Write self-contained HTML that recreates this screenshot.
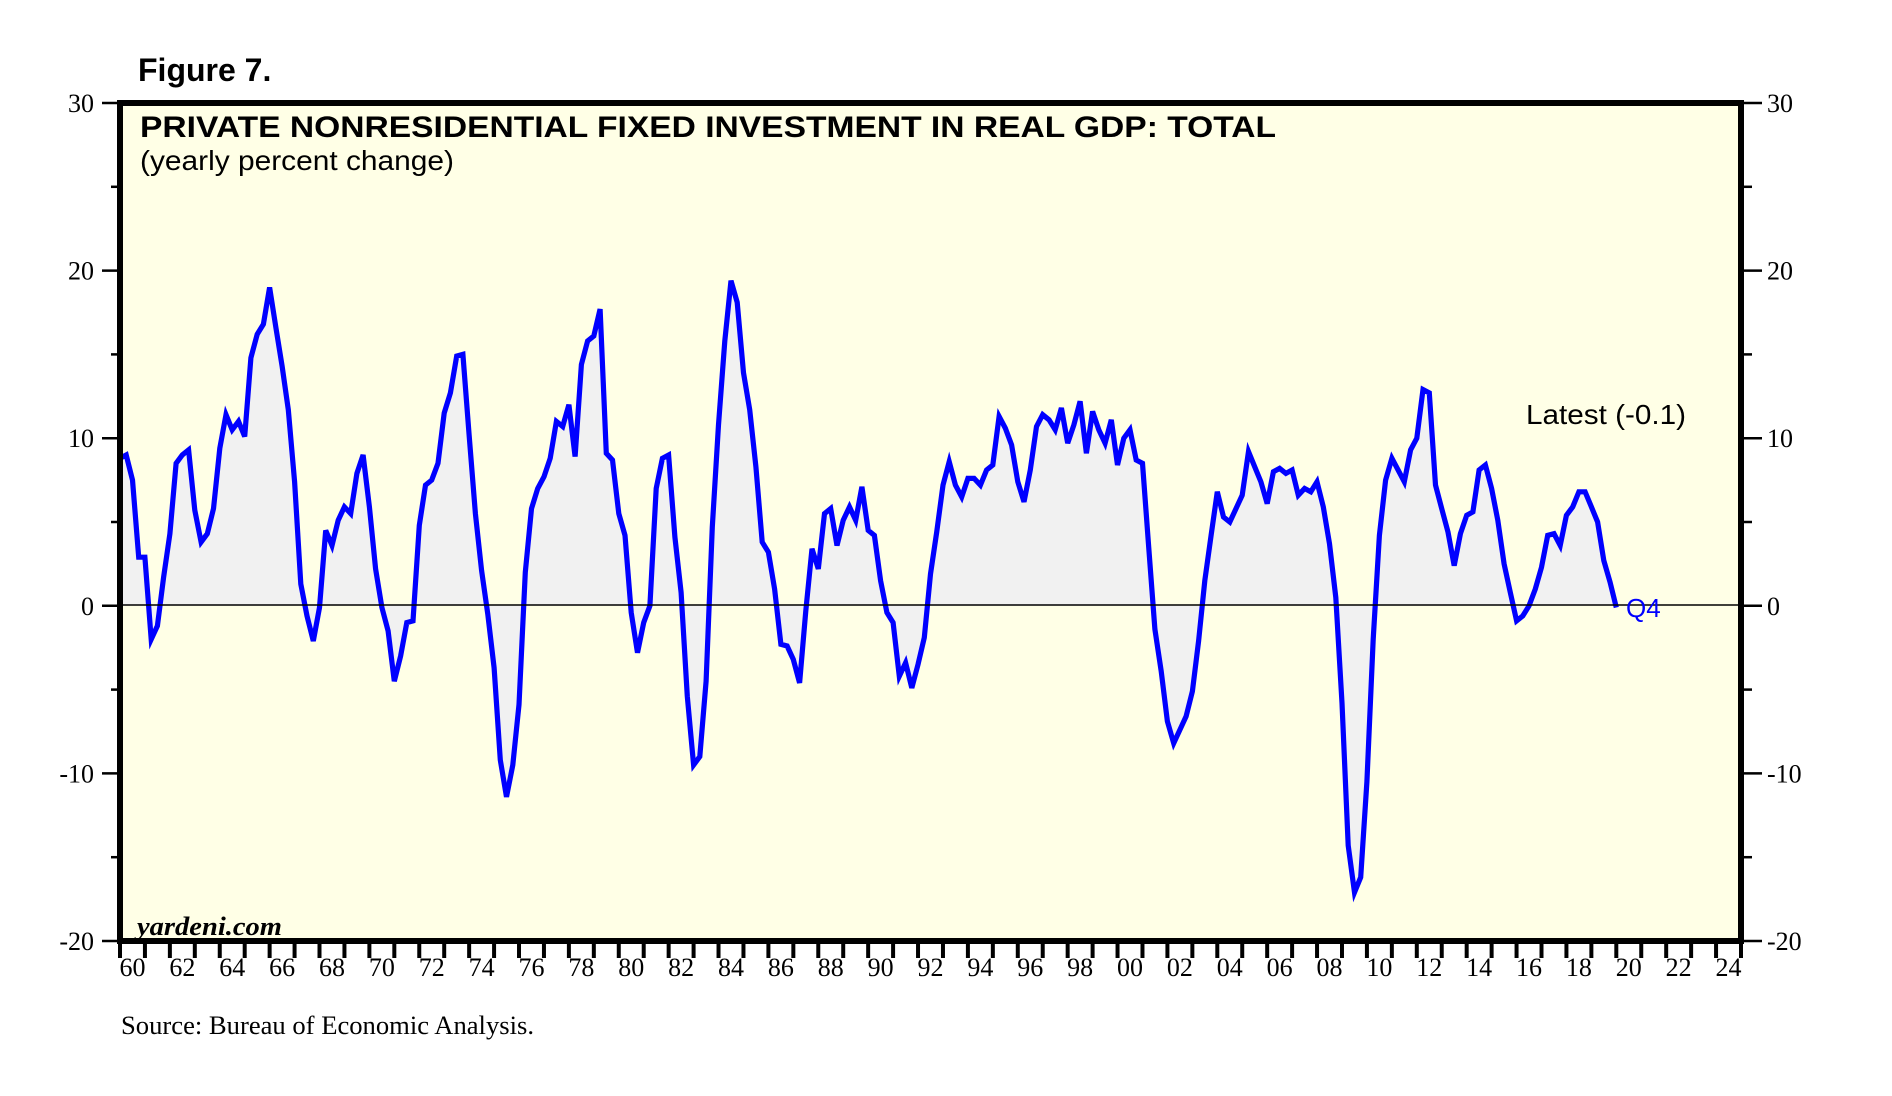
<!DOCTYPE html>
<html><head><meta charset="utf-8"><style>
html,body{margin:0;padding:0;background:#fff;}
svg{display:block;}
</style></head><body>
<svg id="chart" width="1892" height="1096" xmlns="http://www.w3.org/2000/svg">
<text x="138" y="81" font-family="Liberation Sans, sans-serif" font-weight="bold" font-size="32">Figure 7.</text>
<rect x="120" y="103" width="1621" height="838" fill="#ffffe6"/>
<g id="marks"></g>
<line x1="120" y1="605" x2="1741" y2="605" stroke="#000" stroke-width="1.5"/>
<text x="140" y="137" font-family="Liberation Sans, sans-serif" font-weight="bold" font-size="30" textLength="1136" lengthAdjust="spacingAndGlyphs">PRIVATE NONRESIDENTIAL FIXED INVESTMENT IN REAL GDP: TOTAL</text>
<text x="140" y="170" font-family="Liberation Sans, sans-serif" font-size="28" textLength="314" lengthAdjust="spacingAndGlyphs">(yearly percent change)</text>
<text x="1526" y="424" font-family="Liberation Sans, sans-serif" font-size="28" textLength="160" lengthAdjust="spacingAndGlyphs">Latest (-0.1)</text>
<text x="1626" y="617" font-family="Liberation Sans, sans-serif" font-size="26" fill="#0000ff">Q4</text>
<text x="137" y="935" font-family="Liberation Serif, serif" font-weight="bold" font-style="italic" font-size="26" textLength="145" lengthAdjust="spacingAndGlyphs">yardeni.com</text>
<text x="121" y="1034" font-family="Liberation Serif, serif" font-size="26" textLength="413" lengthAdjust="spacingAndGlyphs">Source: Bureau of Economic Analysis.</text>
<rect x="120" y="103" width="1621" height="838" fill="none" stroke="#000" stroke-width="6"/>
<g id="axes"></g>
</svg>
<script>
const values = [8.8,9.0,7.5,2.9,2.9,-2.0,-1.2,1.7,4.3,8.5,
9.0,9.3,5.7,3.8,4.3,5.8,9.4,11.4,10.5,11.0,
10.1,14.8,16.2,16.8,19.0,16.6,14.3,11.7,7.4,1.3,
-0.6,-2.1,-0.1,4.5,3.6,5.1,5.9,5.5,7.9,9.0,
5.9,2.2,-0.1,-1.5,-4.5,-3.0,-1.0,-0.9,4.8,7.2,
7.5,8.5,11.5,12.7,14.9,15.0,10.2,5.5,2.1,-0.5,
-3.7,-9.2,-11.4,-9.5,-5.9,2.0,5.8,7.0,7.7,8.8,
11.0,10.7,12.0,8.9,14.4,15.8,16.1,17.7,9.1,8.7,
5.5,4.2,-0.4,-2.8,-1.0,0.0,7.0,8.8,9.0,4.1,
0.8,-5.4,-9.5,-9.0,-4.5,4.7,10.8,15.8,19.4,18.1,
13.9,11.7,8.3,3.8,3.2,1.0,-2.3,-2.4,-3.2,-4.6,
-0.3,3.4,2.2,5.5,5.8,3.6,5.1,5.9,5.1,7.1,
4.5,4.2,1.5,-0.4,-1.0,-4.2,-3.4,-4.9,-3.5,-1.9,
1.9,4.4,7.2,8.6,7.2,6.5,7.6,7.6,7.2,8.1,
8.4,11.3,10.6,9.6,7.4,6.2,8.1,10.7,11.4,11.1,
10.5,11.8,9.7,10.8,12.2,9.1,11.6,10.5,9.7,11.1,
8.4,10.0,10.5,8.7,8.5,3.5,-1.4,-3.9,-6.9,-8.2,
-7.4,-6.6,-5.1,-2.1,1.5,4.2,6.8,5.3,5.0,5.8,
6.6,9.2,8.3,7.4,6.1,8.0,8.2,7.9,8.1,6.6,
7.0,6.8,7.4,5.9,3.7,0.5,-5.8,-14.3,-17.1,-16.2,
-10.5,-2.0,4.2,7.5,8.8,8.1,7.4,9.3,10.0,12.9,
12.7,7.2,5.8,4.4,2.4,4.3,5.4,5.6,8.1,8.4,
7.0,5.1,2.5,0.8,-0.9,-0.6,0.0,1.0,2.3,4.2,
4.3,3.6,5.4,5.9,6.8,6.8,5.9,5.0,2.7,1.4,-0.1];
const startYear = 1960;
const stepYears = 0.25;
const yTicks = [-20,-10,0,10,20,30];
const yMinorTicks = [-15,-5,5,15,25];
const yTickLabels = ["-20","-10","0","10","20","30"];
const xLabelYears = [1960,1962,1964,1966,1968,1970,1972,1974,1976,1978,1980,1982,1984,1986,1988,1990,1992,1994,1996,1998,2000,2002,2004,2006,2008,2010,2012,2014,2016,2018,2020,2022,2024];
const xLabels = ["60","62","64","66","68","70","72","74","76","78","80","82","84","86","88","90","92","94","96","98","00","02","04","06","08","10","12","14","16","18","20","22","24"];

const X0=120, X1=1741, Y0=103, Y1=941;
const xMin=1960, xMax=2025, yMin=-20, yMax=30;
function xs(t){return X0+(t-xMin)/(xMax-xMin)*(X1-X0);}
function ys(v){return Y1-(v-yMin)/(yMax-yMin)*(Y1-Y0);}
const NS="http://www.w3.org/2000/svg";
const marks=document.getElementById('marks');
const axes=document.getElementById('axes');
function mk(tag,attrs,parent){const e=document.createElementNS(NS,tag);for(const k in attrs)e.setAttribute(k,attrs[k]);parent.appendChild(e);return e;}

const pts=values.map((v,i)=>[xs(startYear+i*stepYears),ys(v)]);
const y0=ys(0);
let d='M'+pts[0][0].toFixed(1)+','+y0.toFixed(1);
pts.forEach(p=>{d+=' L'+p[0].toFixed(1)+','+p[1].toFixed(1);});
d+=' L'+pts[pts.length-1][0].toFixed(1)+','+y0.toFixed(1)+' Z';
const area=mk('path',{d:d,fill:'#f1f1f1',stroke:'none'},marks);


const line=mk('polyline',{points:pts.map(p=>p[0].toFixed(1)+','+p[1].toFixed(1)).join(' '),fill:'none',stroke:'#0000ff','stroke-width':5.2,'stroke-linejoin':'miter'},marks);



yTicks.forEach((v,i)=>{
  const y=ys(v);
  const tl=mk('line',{x1:102,y1:y,x2:120,y2:y,stroke:'#000','stroke-width':2.5},axes);
  
  
  const tr=mk('line',{x1:1741,y1:y,x2:1762,y2:y,stroke:'#000','stroke-width':2.5},axes);
  
  
  const l=mk('text',{x:94,y:y+9,'text-anchor':'end','font-family':'Liberation Serif, serif','font-size':26},axes);
  l.textContent=yTickLabels[i];
  
  
  const r=mk('text',{x:1767,y:y+9,'font-family':'Liberation Serif, serif','font-size':26},axes);
  r.textContent=yTickLabels[i];
  
  
});
yMinorTicks.forEach(v=>{
  const y=ys(v);
  const a=mk('line',{x1:111,y1:y,x2:120,y2:y,stroke:'#000','stroke-width':2.5},axes);
  
  
  const b=mk('line',{x1:1741,y1:y,x2:1752,y2:y,stroke:'#000','stroke-width':2.5},axes);
  
  
});
for(let yr=xMin; yr<=xMax; yr++){
  const x=xs(yr);
  const t=mk('line',{x1:x,y1:941,x2:x,y2:958,stroke:'#000','stroke-width':4},axes);
  
  
}
xLabelYears.forEach((yr,i)=>{
  const l=mk('text',{x:xs(yr+0.5),y:976,'text-anchor':'middle','font-family':'Liberation Serif, serif','font-size':26},axes);
  l.textContent=xLabels[i];
  
  
});
</script>
</body></html>
